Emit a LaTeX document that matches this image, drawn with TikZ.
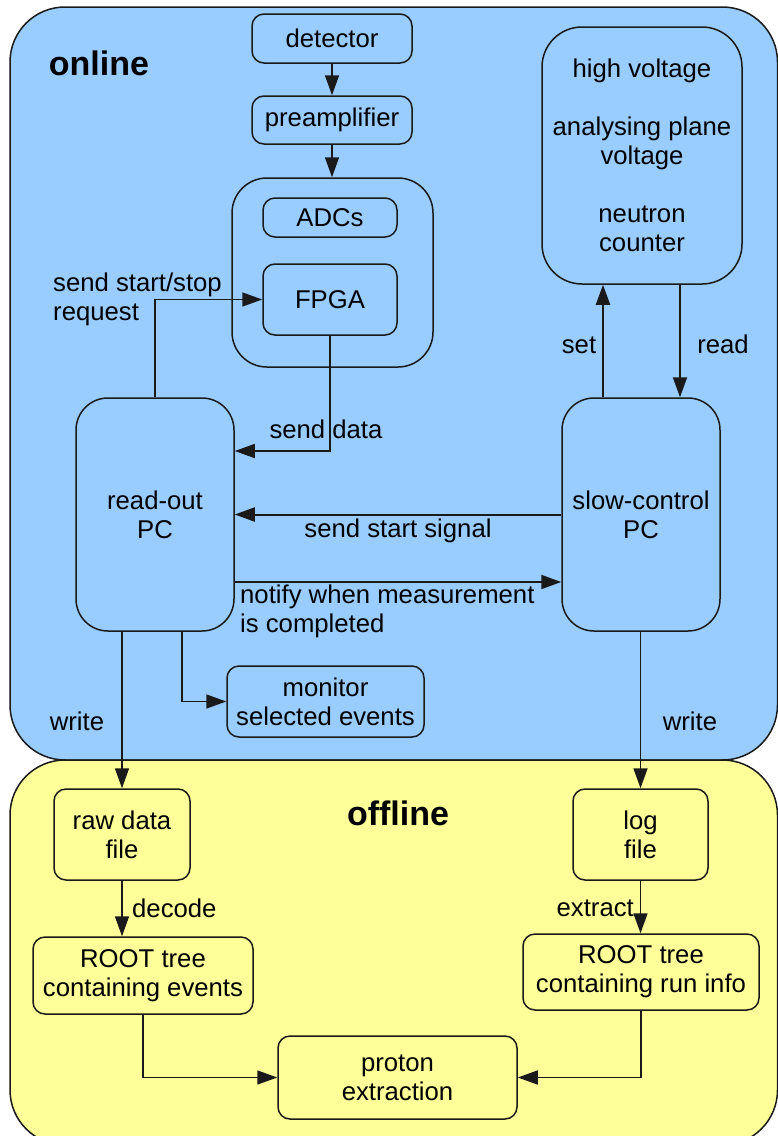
\documentclass[tikz,border=0pt]{standalone}
\usepackage{fontspec}
\setmainfont{Liberation Sans}
\usepackage{xcolor}
\usetikzlibrary{arrows.meta}
\definecolor{onlineblue}{HTML}{99CCFF}
\definecolor{offlineyellow}{HTML}{FFFF99}
\definecolor{edge}{HTML}{1A1A1A}
\newcommand{\txt}{\fontsize{25.7}{29}\selectfont}

\begin{document}
\begin{tikzpicture}[x=1pt,y=-1pt,
  every node/.style={font=\txt,text=black},
  box/.style={draw=edge,line width=1.5pt,rounded corners=12pt,align=center,inner sep=0pt},
  pcbox/.style={box,rounded corners=32pt},
  arr/.style={draw=edge,line width=1.5pt,-{Triangle[length=20pt,width=14pt]}},
  thickarr/.style={arr,line width=2pt},
  title/.style={font=\fontsize{34}{40}\selectfont\bfseries}]
\useasboundingbox (0,0) rectangle (778,1136);

\draw [fill=onlineblue,draw=edge,line width=1.5pt,rounded corners=55pt] (10,7) rectangle (777.5,760);
\draw [fill=offlineyellow,draw=edge,line width=1.5pt,rounded corners=55pt] (10,760) rectangle (777.5,1145);

\node [title] (online) at (99,63) {online};
\node [title] (offline) at (398,813) {offline};

\node [box,minimum width=160pt,minimum height=49pt] (det) at (332,38.5) {detector};
\node [box,minimum width=160pt,minimum height=48pt] (pre) at (332,120) {preamplifier};
\node [box,rounded corners=35pt,minimum width=201pt,minimum height=189pt] (grp) at (332.5,272.5) {};
\node [box,minimum width=134pt,minimum height=39pt] (adc) at (330,217.5) {ADCs};
\node [box,minimum width=134pt,minimum height=71pt] (fpga) at (330,299.5) {FPGA};

\node [box,rounded corners=40pt,minimum width=200pt,minimum height=257pt] (hv) at (642,155.5)
  {high voltage\\[29pt]analysing plane\\voltage\\[29pt]neutron\\counter};

\node [pcbox,minimum width=158pt,minimum height=233pt] (ro) at (155,514.5) {read-out\\PC};
\node [pcbox,minimum width=158pt,minimum height=233pt] (sc) at (641,514.5) {slow-control\\PC};
\node [box,minimum width=197pt,minimum height=71pt] (mon) at (325.5,701.5) {monitor\\selected events};

\node [box,minimum width=136pt,minimum height=91pt] (raw) at (122,834.5) {raw data\\file};
\node [box,minimum width=135pt,minimum height=91pt] (log) at (640.5,834.5) {log\\file};
\node [box,minimum width=220pt,minimum height=77pt] (ev) at (143,975.5) {ROOT tree\\containing events};
\node [box,minimum width=236pt,minimum height=76pt] (ri) at (641,972) {ROOT tree\\containing run info};
\node [box,minimum width=239pt,minimum height=83pt] (pe) at (397.5,1077.5) {proton\\extraction};

\coordinate (sdata) at (0,451);
\coordinate (notify) at (0,582);

\draw [arr] (det) -- (pre);
\draw [arr] (pre.south) -- (pre.south |- grp.north);
\draw [arr] (ro.north) |- (fpga.west);
\draw [arr] (fpga.south) |- (ro.east |- sdata);
\draw [thickarr] (sc.west) -- (ro.east);
\draw [thickarr] (ro.east |- notify) -- (sc.west |- notify);
\draw [thickarr] ([xshift=-38pt]sc.north) -- ([xshift=-38pt]sc.north |- hv.south);
\draw [thickarr] ([xshift=38pt]hv.south) -- ([xshift=38pt]hv.south |- sc.north);
\draw [arr] ([xshift=27pt]ro.south) |- (mon.west);
\draw [arr] (raw.north |- ro.south) -- (raw.north);
\draw [arr] (log.north |- sc.south) -- (log.north);
\draw [arr] (raw.south) -- (raw.south |- ev.north);
\draw [arr] (log.south) -- (log.south |- ri.north);
\draw [arr] (ev.south) |- (pe.west);
\draw [arr] (ri.south) |- (pe.east);

\node [align=left,anchor=west,inner sep=0pt] (lreq) at (53,299) {send start/stop\\request};
\node (ldata) at (326,429) {send data};
\node (lstart) at (398,531) {send start signal};
\node [align=left,anchor=west,inner sep=0pt] (lnotify) at (240,611) {notify when measurement\\is completed};
\node (lset) at (579,345) {set};
\node (lread) at (723,344) {read};
\node (lwrite1) at (77,721) {write};
\node (lwrite2) at (690,721) {write};
\node [anchor=west,inner sep=0pt] (ldecode) at (132,908) {decode};
\node [anchor=east,inner sep=0pt] (lextract) at (634,908) {extract};
\end{tikzpicture}
\end{document}
